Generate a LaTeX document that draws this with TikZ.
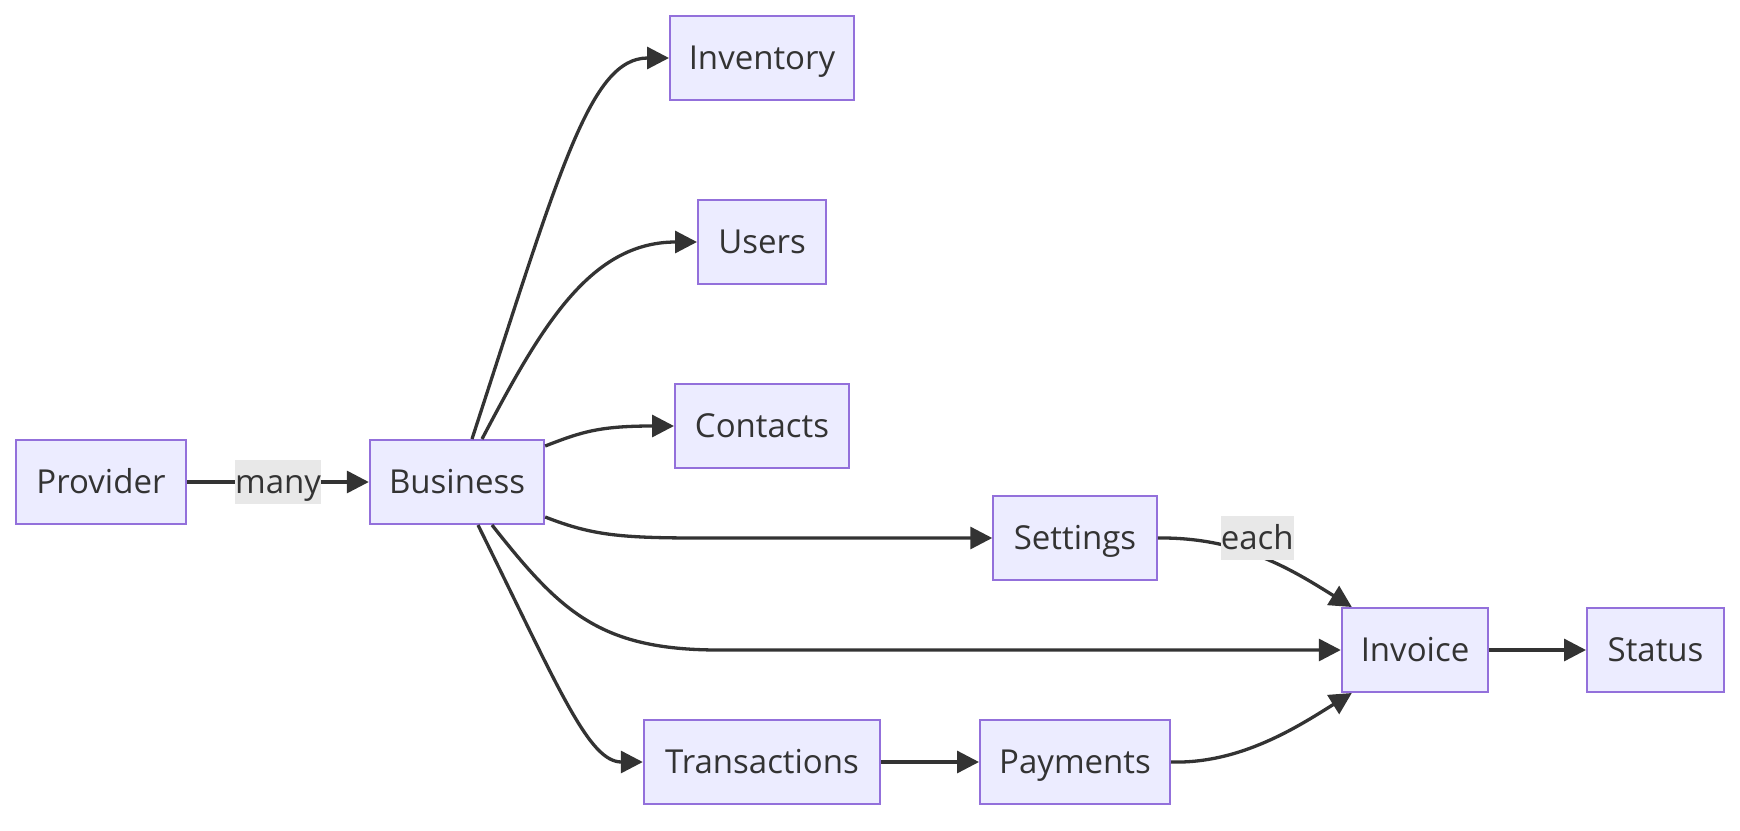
\documentclass[tikz,border=0pt]{standalone}
\usepackage{fontspec}
\setmainfont{Open Sans}
\usetikzlibrary{arrows.meta,calc}
\definecolor{boxfill}{HTML}{ECECFF}
\definecolor{boxline}{HTML}{9370DB}
\definecolor{edgecol}{HTML}{333333}
\definecolor{txtcol}{HTML}{333333}
\definecolor{lblfill}{HTML}{E8E8E8}
\tikzset{
  box/.style={draw=boxline, fill=boxfill, line width=2pt, minimum height=84pt,
    inner sep=0pt, text=txtcol, font=\fontsize{33}{39}\selectfont,
    text height=23.6pt, text depth=0pt},
  lbl/.style={fill=lblfill, inner xsep=0pt, inner ysep=0pt, minimum height=44pt,
    text=txtcol, font=\fontsize{33}{39}\selectfont, text height=23.6pt, text depth=0pt},
  edge/.style={draw=edgecol, line width=3.3pt, -{Triangle[length=22pt,width=22pt]}},
}
\begin{document}
\begin{tikzpicture}[x=1pt,y=-1pt]
\useasboundingbox (0,0) rectangle (1740,830);
% nodes
\node[box, minimum width=170.7pt] (prov) at (101,482) {Provider};
\node[box, minimum width=174.4pt] (bus) at (457,482) {Business};
\node[box, minimum width=184pt] (inv) at (762,58) {Inventory};
\node[box, minimum width=128pt] (usr) at (762,242) {Users};
\node[box, minimum width=174pt] (con) at (762,426) {Contacts};
\node[box, minimum width=163.5pt] (set) at (1075,538) {Settings};
\node[box, minimum width=146.4pt] (invo) at (1415,650) {Invoice};
\node[box, minimum width=137pt] (sta) at (1655.5,650) {Status};
\node[box, minimum width=236.4pt] (tra) at (762,762) {Transactions};
\node[box, minimum width=190pt] (pay) at (1075,762) {Payments};
% edges
\draw[edge] (prov.east) -- node[lbl] {many} (bus.west);
\draw[edge] ([xshift=15pt]bus.north) .. controls +(88,-270) and +(-79,0) .. (inv.west);
\draw[edge] ([xshift=25pt]bus.north) .. controls +(58,-110) and +(-108,0) .. (usr.west);
\draw[edge] ([yshift=36pt]bus.east) .. controls +(36,-14) and +(-75,0) .. (con.west);
\draw[edge] ([yshift=-35pt]bus.east) .. controls +(46,18) and +(-80,0) .. ($(set.west)+(-293,0)$) -- (set.west);
\draw[edge] ([xshift=21pt]bus.south) .. controls +(82,166) and +(-54,0) .. (tra.west);
\draw[edge] ([xshift=35pt]bus.south) .. controls +(68,86) and +(-120,0) .. ($(invo.west)+(-622,0)$) -- (invo.west);
\draw[edge] (set.east) .. controls +(83.5,-1) and +(-58,-36) .. ([xshift=11pt]invo.north west);
\node[lbl] (each) at ($(set.east)+(99.5,0)$) {each};
\draw[edge] (pay.east) .. controls +(70,2) and +(-53,33) .. ([xshift=11pt]invo.south west);
\draw[edge] (tra.east) -- (pay.west);
\draw[edge] (invo.east) -- (sta.west);
\end{tikzpicture}
\end{document}
